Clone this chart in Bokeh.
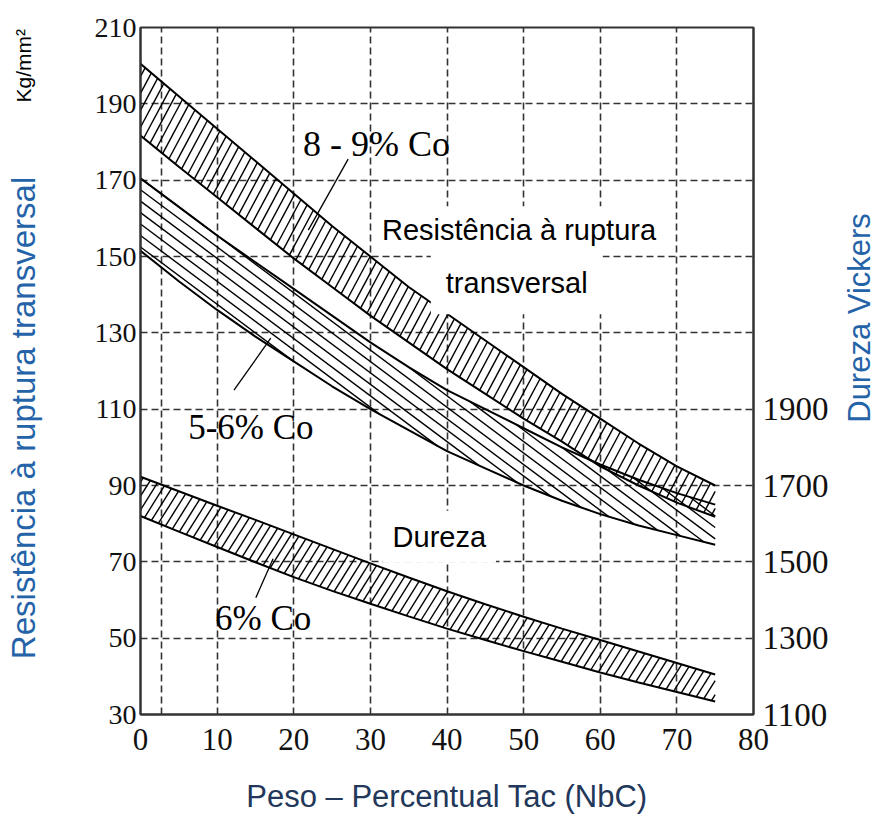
import numpy as np
from bokeh.plotting import figure
from bokeh.layouts import row
from bokeh.models import Range1d, LinearAxis, FixedTicker, Label
from bokeh.embed import file_html
from bokeh.resources import INLINE

# ---------------- data ----------------
x_pts = [0, 5, 10, 15, 20, 25, 30, 35, 40, 45, 50, 55, 60, 65, 70, 75]

# 8 - 9 % Co : transverse rupture strength band (kg/mm2)
co89_upper = [200.5, 192, 183.5, 175, 166.5, 158, 150, 142, 135, 128, 121, 114, 107.5, 101, 95, 90]
co89_lower = [181.7, 173.5, 165.5, 157.5, 149.5, 142, 134.5, 127.5, 120.5, 114, 107.5, 101.5, 95, 90, 85.5, 81.8]

# 5 - 6 % Co : transverse rupture strength band (kg/mm2)
co56_upper = [170.5, 163, 155.5, 148.5, 141.5, 134.5, 127.5, 121, 115, 110, 105, 100, 95.5, 91.5, 88, 85]
co56_lower = [151.5, 143.5, 136, 129, 122.5, 116, 110, 104.5, 99, 94.5, 90, 86, 82.5, 79.5, 77, 74.5]

# 6 % Co : Vickers hardness band (HV, right axis)
hv_upper = [1723, 1685, 1647, 1610, 1572, 1534, 1496, 1459, 1423, 1389, 1356, 1325, 1295, 1265, 1235, 1205]
hv_lower = [1620, 1579, 1539, 1499, 1460, 1424, 1390, 1357, 1325, 1295, 1266, 1238, 1210, 1184, 1159, 1134]

x_ticks = [0, 10, 20, 30, 40, 50, 60, 70, 80]
y_ticks = [30, 50, 70, 90, 110, 130, 150, 170, 190, 210]
hv_ticks = [1100, 1300, 1500, 1700, 1900]
x_grid_ticks = [2.8, 10, 20, 30, 40, 50, 60, 70]
y_grid_ticks = [50, 70, 90, 110, 130, 150, 170, 190]

# leader lines (x, y)
leader_89_x = [21.9, 27.1]
leader_89_y = [156.9, 175.5]
leader_56_x = [12.2, 17.0]
leader_56_y = [115.0, 128.6]
leader_6_x = [15.05, 17.3]
leader_6_hv = [1406, 1508]

BLUE = "#2563a8"
SERIF = "Liberation Serif"
SANS = "Liberation Sans"

# ---------------- layout constants ----------------
H = 816
SIDE_L = 46
SIDE_R = 40
MAIN_W = 876 - SIDE_L - SIDE_R
TOP = 27
BOTTOM = 101
Y0, Y1 = 30, 210


def hatch_segments(xs, lo, hi, slope, spacing):
    xf = np.linspace(xs[0], xs[-1], 4001)
    lof = np.interp(xf, xs, lo)
    hif = np.interp(xf, xs, hi)
    cmin = np.min(lof - slope * xf)
    cmax = np.max(hif - slope * xf)
    seg_x, seg_y = [], []
    for c in np.arange(cmin + spacing * 0.5, cmax, spacing):
        yl = c + slope * xf
        inside = (yl >= lof) & (yl <= hif)
        edges = np.flatnonzero(np.diff(np.concatenate([[0], inside.astype(int), [0]])))
        for s, e in zip(edges[0::2], edges[1::2]):
            if e - s >= 2:
                seg_x.append([xf[s], xf[e - 1]])
                seg_y.append([yl[s], yl[e - 1]])
    return seg_x, seg_y


p = figure(width=MAIN_W, height=H, x_range=Range1d(0, 80), y_range=Range1d(Y0, Y1),
           output_backend="svg", toolbar_location=None,
           min_border_left=140 - SIDE_L, min_border_right=83, min_border_top=TOP, min_border_bottom=BOTTOM)
p.extra_y_ranges = {"hv": Range1d(1100, 2900)}
p.background_fill_color = "white"
p.border_fill_color = "white"
p.outline_line_color = "#333333"
p.outline_line_width = 2

# axes
p.xaxis.ticker = FixedTicker(ticks=x_ticks)
p.yaxis.ticker = FixedTicker(ticks=y_ticks)
right = LinearAxis(y_range_name="hv", ticker=FixedTicker(ticks=hv_ticks))
p.add_layout(right, "right")

for ax in [p.xaxis[0], p.yaxis[0], right]:
    ax.major_tick_line_color = None
    ax.minor_tick_line_color = None
    ax.axis_line_color = "#333333"
    ax.axis_line_width = 2
    ax.major_label_text_font = SERIF
    ax.major_label_text_color = "#111111"

p.yaxis[0].major_label_text_font_size = "28px"
p.yaxis[0].major_label_standoff = -2
p.xaxis[0].major_label_text_font_size = "31px"
p.xaxis[0].major_label_standoff = 8
right.major_label_text_font_size = "33px"
right.major_label_standoff = 3

p.xaxis[0].axis_label = "Peso \u2013 Percentual Tac (NbC)"
p.xaxis[0].axis_label_text_font = SANS
p.xaxis[0].axis_label_text_font_size = "31px"
p.xaxis[0].axis_label_text_font_style = "normal"
p.xaxis[0].axis_label_text_color = "#22375a"
p.xaxis[0].axis_label_standoff = 26

# grid
p.xgrid.ticker = FixedTicker(ticks=x_grid_ticks)
p.ygrid.ticker = FixedTicker(ticks=y_grid_ticks)
for g in [p.xgrid[0], p.ygrid[0]]:
    g.grid_line_color = "#333333"
    g.grid_line_width = 1.6
    g.grid_line_dash = "7 4"

# hatch lines
hx, hy = hatch_segments(x_pts, co89_lower, co89_upper, 3.76, 4.44)
p.multi_line(hx, hy, line_color="black", line_width=1.4)
hx, hy = hatch_segments(x_pts, co56_lower, co56_upper, -1.5, 3.0)
p.multi_line(hx, hy, line_color="black", line_width=1.4)
hx, hy = hatch_segments(x_pts, hv_lower, hv_upper, 32.0, 36.5)
p.multi_line(hx, hy, line_color="black", line_width=1.4, y_range_name="hv")

# band boundaries
for yy in [co89_upper, co89_lower, co56_upper, co56_lower]:
    p.line(x_pts, yy, line_color="black", line_width=2)
for yy in [hv_upper, hv_lower]:
    p.line(x_pts, yy, line_color="black", line_width=2, y_range_name="hv")

# leader lines
p.line(leader_89_x, leader_89_y, line_color="black", line_width=1.3)
p.line(leader_56_x, leader_56_y, line_color="black", line_width=1.3)
p.line(leader_6_x, leader_6_hv, line_color="black", line_width=1.3, y_range_name="hv")


def add_text(fig, x, y, text, font, size, color="black", angle=0.0, bg=False, pad=0):
    kw = {}
    if bg:
        kw = dict(background_fill_color="white", background_fill_alpha=1.0, padding=pad)
    fig.add_layout(Label(x=x, y=y, text=text, text_font=font, text_font_size=size, angle=angle,
                         text_color=color, text_align="center", text_baseline="middle", **kw))


add_text(p, 30.8, 179.6, "8 - 9% Co", SERIF, "36px")
add_text(p, 14.4, 105.3, "5-6% Co", SERIF, "35px")
add_text(p, 16.0, 55.1, "6% Co", SERIF, "35px")
add_text(p, 49.4, 156.9, "Resist\u00eancia \u00e0 ruptura", SANS, "29px", bg=True, pad=8)
add_text(p, 49.1, 143.0, "transversal", SANS, "29px", bg=True, pad=15)
add_text(p, 39.0, 76.6, "Dureza", SANS, "29px", bg=True, pad=10)


def side_fig(w):
    # side strips share the main frame's vertical extent (row aligns frames)
    f = figure(width=w, height=H, x_range=Range1d(0, w), y_range=Range1d(Y0, Y1),
               output_backend="svg", toolbar_location=None, x_axis_type=None, y_axis_type=None,
               min_border=0)
    f.outline_line_color = None
    f.grid.visible = False
    f.background_fill_color = "white"
    f.border_fill_color = "white"
    return f


left_fig = side_fig(SIDE_L)
add_text(left_fig, 23, 107.7, "Resist\u00eancia \u00e0 ruptura transversal", SANS, "33px",
         color=BLUE, angle=np.pi / 2)
add_text(left_fig, 23, 200.0, "Kg/mm\u00b2", SANS, "21px", angle=np.pi / 2)

right_fig = side_fig(SIDE_R)
add_text(right_fig, 22.5, 133.9, "Dureza Vickers", SANS, "31px", color=BLUE, angle=np.pi / 2)

layout = row(left_fig, p, right_fig)
open("out.html", "w").write(file_html(layout, INLINE))
